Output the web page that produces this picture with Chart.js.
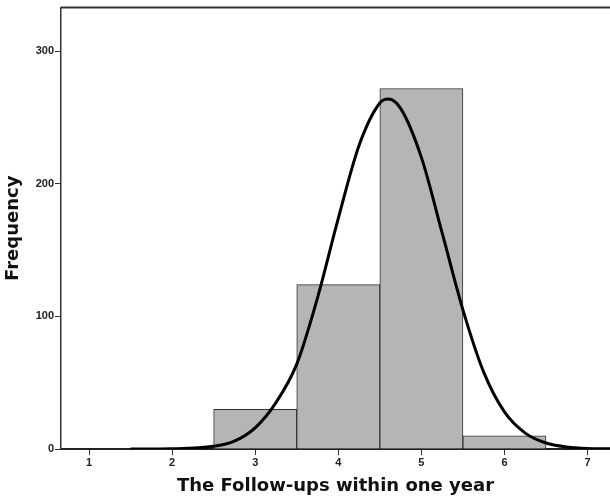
<!DOCTYPE html>
<html>
<head>
<meta charset="utf-8">
<script src="https://cdn.jsdelivr.net/npm/chart.js@4.4.1/dist/chart.umd.min.js"></script>
<style>
  html, body { margin: 0; padding: 0; background: #fff; }
  canvas { display: block; }
</style>
</head>
<body>
<canvas id="myChart" width="610" height="501"></canvas>
<script>
'use strict';

// histogram bins (centre of each bin) and counts
const binCenters = [3, 4, 5, 6];
const binCounts = [30, 124, 272, 10];

// normal curve
const curveX = [1.5, 2.0, 2.5, 2.75, 3.0, 3.25, 3.5, 3.75, 4.0, 4.25, 4.5, 4.6, 4.75, 5.0, 5.25, 5.5, 5.75, 6.0, 6.25, 6.5, 6.75, 7.0, 7.5];
const curveY = [0, 0.2, 2, 6, 16, 35, 64, 114, 174, 229, 261, 264, 257, 220, 163, 105, 58, 28, 12, 4.5, 1.5, 0.4, 0];

const xTicks = [1, 2, 3, 4, 5, 6, 7];
const yTicks = [0, 100, 200, 300];

const ink = '#222';
const tickFont = { family: 'Liberation Sans', size: 11, weight: 'bold' };
const titleFont = { family: 'DejaVu Sans', size: 18, weight: 'bold' };

const topBorder = {
  id: 'topBorder',
  afterDraw(chart) {
    const { ctx, chartArea } = chart;
    ctx.save();
    ctx.strokeStyle = '#333';
    ctx.lineWidth = 2;
    ctx.beginPath();
    ctx.moveTo(chartArea.left, chartArea.top);
    ctx.lineTo(chartArea.right, chartArea.top);
    ctx.stroke();
    ctx.restore();
  },
};

const ctx = document.getElementById('myChart');

new Chart(ctx, {
  type: 'bar',
  data: {
    datasets: [
      {
        type: 'line',
        data: curveX.map((x, i) => ({ x, y: curveY[i] })),
        borderColor: '#000',
        borderWidth: 3,
        pointRadius: 0,
        cubicInterpolationMode: 'monotone',
        fill: false,
        order: 0,
      },
      {
        type: 'bar',
        data: binCenters.map((x, i) => ({ x, y: binCounts[i] })),
        backgroundColor: '#b5b5b5',
        borderColor: '#333',
        borderWidth: 1,
        barPercentage: 1,
        categoryPercentage: 1,
        order: 1,
      },
    ],
  },
  options: {
    responsive: false,
    animation: false,
    layout: { padding: { top: 6, left: 0, right: 0, bottom: 0 } },
    plugins: {
      legend: { display: false },
      tooltip: { enabled: false },
    },
    scales: {
      x: {
        type: 'linear',
        offset: false,
        min: 0.663,
        max: 7.27,
        afterBuildTicks: (s) => {
          s.ticks = xTicks.map((v) => ({ value: v }));
        },
        afterFit: (s) => {
          s.height = 52;
        },
        ticks: { color: ink, font: tickFont, padding: 1, maxRotation: 0 },
        grid: { offset: false, drawOnChartArea: false, drawTicks: true, tickLength: 6, tickColor: '#333', lineWidth: 1 },
        border: { color: '#222', width: 2 },
        title: {
          display: true,
          text: 'The Follow-ups within one year',
          color: '#111',
          font: titleFont,
          padding: { top: 0, bottom: 4 },
        },
      },
      y: {
        min: 0,
        max: 333,
        afterBuildTicks: (s) => {
          s.ticks = yTicks.map((v) => ({ value: v }));
        },
        afterFit: (s) => {
          s.width = 61;
        },
        ticks: { color: ink, font: tickFont, padding: 1 },
        grid: { drawOnChartArea: false, drawTicks: true, tickLength: 6, tickColor: '#333', lineWidth: 1 },
        border: { color: '#333', width: 1.5 },
        title: {
          display: true,
          text: 'Frequency',
          color: '#111',
          font: titleFont,
          padding: { top: 3, bottom: 0 },
        },
      },
    },
  },
  plugins: [topBorder],
});
</script>
</body>
</html>
